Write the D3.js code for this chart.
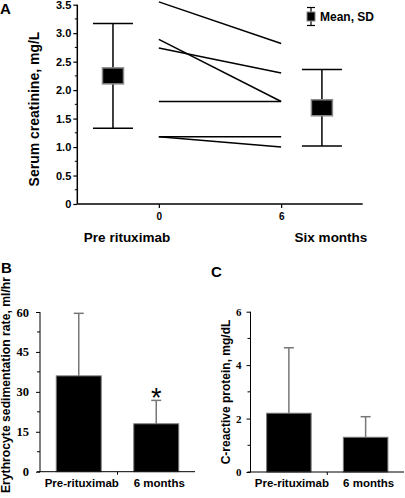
<!DOCTYPE html>
<html><head><meta charset="utf-8">
<script src="https://cdn.jsdelivr.net/npm/d3@7"></script>
<style>
html,body{margin:0;padding:0;background:#fff;}
svg{display:block;}
text{font-family:"Liberation Sans",Arial,sans-serif;font-weight:bold;fill:#000;}
</style></head>
<body>
<svg id="c" width="405" height="498"></svg>
<script>
// ---------- Panel A data ----------
const creatPre = [3.55, 2.89, 2.74, 1.80, 1.18, 1.18];
const creatSix = [2.82, 1.80, 2.30, 1.80, 1.18, 1.00];
const creatTimes = [0, 6];
const summaryLabels = ["Pre rituximab", "Six months"];
const summaryPos = [-2.25, 8];
const summaryMean = [2.25, 1.69];
const summarySD = [0.92, 0.67];
const creatTicks = [0, 0.5, 1.0, 1.5, 2.0, 2.5, 3.0, 3.5];

// ---------- Panel B data ----------
const barCategories = ["Pre-rituximab", "6 months"];
const esrMean = [36, 18];
const esrSD = [23.5, 8.8];
const esrTicks = [0, 15, 30, 45, 60];

// ---------- Panel C data ----------
const crpMean = [2.2, 1.3];
const crpSD = [2.45, 0.77];
const crpTicks = [0, 2, 4, 6];

const svg = d3.select("#c");

// ================= Panel A =================
const xA = d3.scaleLinear().domain([-4, 10]).range([77.3, 362.7]);
const yA = d3.scaleLinear().domain([0, 3.5]).range([204, 4.7]);
const gA = svg.append("g");

const yAxisA = d3.axisLeft(yA).tickValues(creatTicks).tickSize(4).tickPadding(2)
  .tickFormat(d => d === 0 ? "0" : d3.format(".1f")(d));
const gyA = gA.append("g").attr("transform", `translate(${xA.range()[0]},0)`).call(yAxisA);
gyA.select(".domain").attr("d", `M0,${yA(3.5)}V${yA(0)}`).attr("stroke-width", 1.5);
gyA.selectAll(".tick line").attr("stroke-width", 1.2);
gyA.selectAll("text").style("font-size", "11px").style("font-family", "Liberation Sans, Arial, sans-serif").style("font-weight", "bold");
const minorA = d3.range(0.25, 3.5, 0.5);
gA.selectAll(".minA").data(minorA).join("line")
  .attr("x1", xA.range()[0] - 2.5).attr("x2", xA.range()[0])
  .attr("y1", d => yA(d)).attr("y2", d => yA(d))
  .attr("stroke", "#000").attr("stroke-width", 1);

const xAxisA = d3.axisBottom(xA).tickValues(creatTimes).tickSize(4).tickPadding(5).tickFormat(d3.format("d"));
const gxA = gA.append("g").attr("transform", `translate(0,${yA(0)})`).call(xAxisA);
gxA.select(".domain").attr("d", `M${xA.range()[0]},0H${xA.range()[1]}`).attr("stroke-width", 1.5);
gxA.selectAll(".tick line").attr("stroke-width", 1.2);
gxA.selectAll("text").style("font-size", "10px").style("font-family", "Liberation Sans, Arial, sans-serif").style("font-weight", "bold");

const pairs = creatPre.map((v, i) => [v, creatSix[i]]);
gA.selectAll(".pline").data(pairs).join("line")
  .attr("x1", xA(creatTimes[0])).attr("x2", xA(creatTimes[1]))
  .attr("y1", d => yA(d[0])).attr("y2", d => yA(d[1]))
  .attr("stroke", "#000").attr("stroke-width", 1.5);

const summ = summaryPos.map((p, i) => ({ p, m: summaryMean[i], s: summarySD[i] }));
const sg = gA.selectAll(".summ").data(summ).join("g");
sg.append("line").attr("x1", d => xA(d.p)).attr("x2", d => xA(d.p))
  .attr("y1", d => yA(d.m + d.s)).attr("y2", d => yA(d.m - d.s))
  .attr("stroke", "#000").attr("stroke-width", 1.5);
sg.selectAll(".cap").data(d => [d.m + d.s, d.m - d.s].map(v => ({ p: d.p, v }))).join("line")
  .attr("x1", d => xA(d.p) - 20).attr("x2", d => xA(d.p) + 20)
  .attr("y1", d => yA(d.v)).attr("y2", d => yA(d.v))
  .attr("stroke", "#000").attr("stroke-width", 1.5);
sg.append("rect").attr("x", d => xA(d.p) - 10.5).attr("y", d => yA(d.m) - 8)
  .attr("width", 21).attr("height", 16)
  .attr("fill", "#000").attr("stroke", "#888").attr("stroke-width", 1.5);

gA.selectAll(".glab").data(summaryLabels).join("text")
  .attr("x", (d, i) => [127, 331][i]).attr("y", 242)
  .attr("text-anchor", "middle").style("font-size", "13.5px").text(d => d);

const lg = gA.append("g").attr("transform", "translate(311,16.5)");
lg.append("line").attr("x1", 0).attr("x2", 0).attr("y1", -9).attr("y2", 9).attr("stroke", "#000").attr("stroke-width", 1.2);
lg.append("line").attr("x1", -4).attr("x2", 4).attr("y1", -9).attr("y2", -9).attr("stroke", "#000").attr("stroke-width", 1.2);
lg.append("line").attr("x1", -4).attr("x2", 4).attr("y1", 9).attr("y2", 9).attr("stroke", "#000").attr("stroke-width", 1.2);
lg.append("rect").attr("x", -4).attr("y", -4.5).attr("width", 8).attr("height", 9)
  .attr("fill", "#000").attr("stroke", "#888").attr("stroke-width", 1);
lg.append("text").attr("x", 9).attr("y", 4.5).style("font-size", "12px").text("Mean, SD");

gA.append("text").attr("transform", "translate(39,109) rotate(-90)")
  .attr("text-anchor", "middle").style("font-size", "14px").text("Serum creatinine, mg/L");
svg.append("text").attr("x", 0).attr("y", 14).style("font-size", "15px").text("A");

// ================= Bar panels =================
function barPanel(opts) {
  const g = svg.append("g");
  const x = d3.scaleBand().domain(barCategories).range(opts.xr).paddingInner(0.42).paddingOuter(0.21);
  const y = d3.scaleLinear().domain([0, opts.max]).range(opts.yr);
  const data = barCategories.map((c, i) => ({ c, m: opts.mean[i], s: opts.sd[i] }));
  g.selectAll(".err").data(data).join("line")
    .attr("x1", d => x(d.c) + x.bandwidth() / 2).attr("x2", d => x(d.c) + x.bandwidth() / 2)
    .attr("y1", d => y(d.m)).attr("y2", d => y(d.m + d.s))
    .attr("stroke", "#777").attr("stroke-width", 1.5);
  g.selectAll(".ecap").data(data).join("line")
    .attr("x1", d => x(d.c) + x.bandwidth() / 2 - 5).attr("x2", d => x(d.c) + x.bandwidth() / 2 + 5)
    .attr("y1", d => y(d.m + d.s)).attr("y2", d => y(d.m + d.s))
    .attr("stroke", "#777").attr("stroke-width", 1.5);
  g.selectAll(".bar").data(data).join("rect")
    .attr("x", d => x(d.c)).attr("width", x.bandwidth())
    .attr("y", d => y(d.m)).attr("height", d => y(0) - y(d.m))
    .attr("fill", "#000").attr("stroke", "#777").attr("stroke-width", 1);
  const gy = g.append("g").attr("transform", `translate(${opts.xr[0]},0)`)
    .call(d3.axisLeft(y).tickValues(opts.ticks).tickSize(4).tickPadding(opts.pad).tickFormat(d3.format("d")));
  gy.select(".domain").attr("d", `M0,${y(opts.max)}V${y(0)}`);
  gy.selectAll("text").style("font-size", opts.tfs)
    .style("font-family", "Liberation Serif, Times New Roman, serif").style("font-weight", "bold");
  g.selectAll(".minor").data(opts.minor).join("line")
    .attr("x1", opts.xr[0] - 3).attr("x2", opts.xr[0])
    .attr("y1", d => y(d)).attr("y2", d => y(d)).attr("stroke", "#000");
  const gx = g.append("g").attr("transform", `translate(0,${y(0)})`);
  gx.append("line").attr("x1", opts.xr[0] - 3).attr("x2", opts.xr[1]).attr("stroke", "#000");
  gx.append("line").attr("x1", (opts.xr[0] + opts.xr[1]) / 2).attr("x2", (opts.xr[0] + opts.xr[1]) / 2)
    .attr("y1", 0).attr("y2", 3).attr("stroke", "#000");
  gx.selectAll(".cl").data(barCategories).join("text")
    .attr("x", d => x(d) + x.bandwidth() / 2 + 3).attr("y", 15)
    .attr("text-anchor", "middle").style("font-size", "11.5px").text(d => d);
  g.append("text").attr("transform", `translate(${opts.tx},${opts.ty}) rotate(-90)`)
    .attr("text-anchor", "middle").attr("dominant-baseline", "central")
    .style("font-size", opts.tfsz).text(opts.title);
  svg.append("text").attr("x", opts.lx).attr("y", opts.ly).style("font-size", "15px").text(opts.letter);
  return { g, x, y, data };
}

const B = barPanel({
  xr: [40, 195], yr: [471.7, 312], max: 60, mean: esrMean, sd: esrSD,
  ticks: esrTicks, minor: [7.5, 22.5, 37.5, 52.5], pad: 7, tfs: "12.5px",
  title: "Erythrocyte sedimentation rate, ml/hr", tx: 5.5, ty: 385, tfsz: "12.2px",
  letter: "B", lx: 1, ly: 273
});
B.g.append("text")
  .attr("x", B.x(barCategories[1]) + B.x.bandwidth() / 2).attr("y", B.y(esrMean[1] + esrSD[1]) + 7)
  .attr("text-anchor", "middle").style("font-size", "27px").style("font-weight", "normal").text("*");

barPanel({
  xr: [250.5, 404], yr: [472, 311.7], max: 6, mean: crpMean, sd: crpSD,
  ticks: crpTicks, minor: [1, 3, 5], pad: 5, tfs: "11px",
  title: "C-reactive protein, mg/dL", tx: 226, ty: 392, tfsz: "12px",
  letter: "C", lx: 211, ly: 277
});
</script>
</body></html>
